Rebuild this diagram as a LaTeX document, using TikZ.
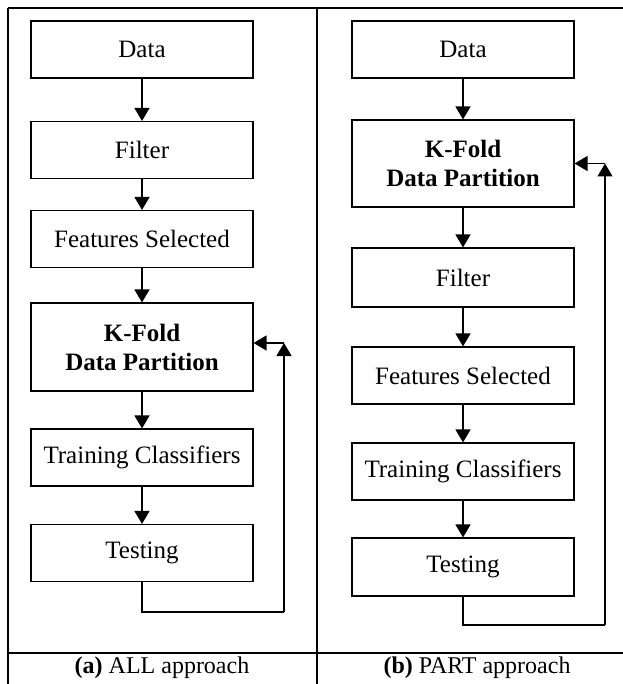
\documentclass[tikz,border=0pt]{standalone}
\usepackage{fontspec}
\setmainfont{Liberation Serif}
\usetikzlibrary{arrows.meta}

\tikzset{
  stage/.style={draw,line width=1.1pt,minimum width=222pt,minimum height=57pt,
    inner sep=0pt,align=center,font=\fontsize{25}{29}\selectfont},
  flow/.style={-{Triangle[width=15pt,length=13pt]},line width=1.4pt},
  loop/.style={line width=1.4pt},
  frame/.style={line width=1.6pt},
}

\begin{document}
\begin{tikzpicture}[x=1pt,y=-1pt]
\useasboundingbox (0,0) rectangle (622,684);

% table frame
\draw[frame](8,8)--(660,8) ;
\draw[frame](8,653)--(660,653) ;
\draw[frame](8,8)--(8,700) ;
\draw[frame](317,8)--(317,700) ;

% (a) ALL approach
\node[stage] (ldata) at (142,49.5) {Data} ;
\node[stage] (lfilter) at (142,150) {Filter} ;
\node[stage] (lfeat) at (142,239) {Features Selected} ;
\node[stage,minimum height=88pt] (lkfold) at (142,347) {\textbf{K-Fold}\\\textbf{Data Partition}} ;
\node[stage] (ltrain) at (142,457.5) {Training Classifiers} ;
\node[stage] (ltest) at (142,553) {Testing} ;

\draw[flow] (ldata) -- (lfilter) ;
\draw[flow] (lfilter) -- (lfeat) ;
\draw[flow] (lfeat) -- (lkfold) ;
\draw[flow] (lkfold) -- (ltrain) ;
\draw[flow] (ltrain) -- (ltest) ;

\coordinate (lturn) at (284,612) ;
\coordinate (lback) at (284,343) ;
\draw[loop] (ltest.south) |- (lturn) ;
\draw[flow] (lturn) -- (lback) ;
\draw[flow] (lback) -- (lkfold.east |- lback) ;

\node[font=\fontsize{24}{28}\selectfont] (lcap) at (162,668) {\textbf{(a)} ALL approach} ;

% (b) PART approach
\node[stage] (rdata) at (463,49.5) {Data} ;
\node[stage,minimum height=87pt] (rkfold) at (463,163.5) {\textbf{K-Fold}\\\textbf{Data Partition}} ;
\node[stage,minimum height=59pt] (rfilter) at (463,277.5) {Filter} ;
\node[stage] (rfeat) at (463,375.5) {Features Selected} ;
\node[stage] (rtrain) at (463,471.5) {Training Classifiers} ;
\node[stage,minimum height=58pt] (rtest) at (463,567) {Testing} ;

\draw[flow] (rdata) -- (rkfold) ;
\draw[flow] (rkfold) -- (rfilter) ;
\draw[flow] (rfilter) -- (rfeat) ;
\draw[flow] (rfeat) -- (rtrain) ;
\draw[flow] (rtrain) -- (rtest) ;

\coordinate (rturn) at (605,625) ;
\coordinate (rback) at (605,163.5) ;
\draw[loop] (rtest.south) |- (rturn) ;
\draw[flow] (rturn) -- (rback) ;
\draw[flow] (rback) -- (rkfold.east) ;

\node[font=\fontsize{24}{28}\selectfont] (rcap) at (477,668) {\textbf{(b)} PART approach} ;
\end{tikzpicture}
\end{document}
